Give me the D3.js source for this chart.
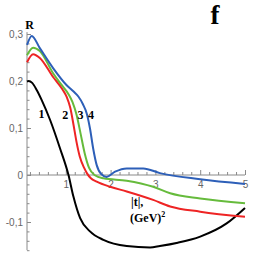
<!DOCTYPE html>
<html><head><meta charset="utf-8">
<script src="https://cdn.jsdelivr.net/npm/d3@7/dist/d3.min.js"></script>
<style>html,body{margin:0;padding:0;background:#fff;}svg{display:block;}</style>
</head><body>
<script>
const W = 272, H = 278;
const xTicks = [1, 2, 3, 4, 5];
const yTicks = [-0.1, 0, 0.1, 0.2, 0.3];
const yTickLabels = ["-0,1", "0", "0,1", "0,2", "0,3"];
const curveNames = ["1", "2", "3", "4"];
const curveColors = ["#000000", "#ee2424", "#66bb3c", "#2d5fb8"];

const x1 = [0.134,0.17,0.25,0.35,0.46,0.65,0.87,1.06,1.17,1.32,1.54,1.84,2.36,2.88,3.1,3.5,4.0,4.59,5.0];
const y1 = [0.199,0.2,0.196,0.181,0.16,0.117,0.057,0.0,-0.046,-0.092,-0.12,-0.138,-0.151,-0.154,-0.151,-0.144,-0.131,-0.103,-0.07];

const x2 = [0.134,0.27,0.42,0.72,0.92,1.02,1.1,1.17,1.24,1.31,1.41,1.47,1.56,1.69,1.99,2.36,2.95,3.33,4.0,5.0];
const y2 = [0.24,0.257,0.249,0.208,0.183,0.166,0.143,0.108,0.07,0.04,0.015,0.004,-0.007,-0.014,-0.025,-0.035,-0.053,-0.067,-0.078,-0.089];

const x3 = [0.134,0.27,0.42,0.72,0.92,1.06,1.15,1.24,1.33,1.42,1.52,1.64,1.84,2.36,2.95,3.33,4.0,5.0];
const y3 = [0.255,0.271,0.264,0.216,0.19,0.172,0.155,0.128,0.088,0.047,0.015,0.0,-0.007,-0.012,-0.025,-0.039,-0.05,-0.06];

const x4 = [0.134,0.24,0.42,0.72,1.02,1.18,1.28,1.38,1.47,1.54,1.61,1.69,1.79,1.91,2.1,2.36,2.73,3.1,4.0,5.0];
const y4 = [0.277,0.296,0.27,0.227,0.191,0.177,0.167,0.151,0.13,0.099,0.057,0.021,0.002,-0.004,0.007,0.014,0.014,0.004,-0.009,-0.019];

const labelX = [0.46, 0.99, 1.33, 1.56];
const labelY = [0.122, 0.12, 0.12, 0.12];

const xMin = 0.134;
const x = d3.scaleLinear().domain([0, 5]).range([21, 245]);
const y = d3.scaleLinear().domain([-0.16, 0.3]).range([250.2, 34]);

const svg = d3.select("body").append("svg").attr("width", W).attr("height", H);
const axisColor = "#8a8a8a";

// x axis
const xg = svg.append("g").attr("transform", `translate(0,${y(0)})`);
xg.append("line").attr("x1", x(xMin)).attr("x2", x(5)).attr("stroke", axisColor).attr("stroke-width", 1);
const xMinor = d3.range(1, 26).map(i => i * 0.2).filter(v => !xTicks.some(t => Math.abs(t - v) < 1e-6));
xg.append("g").call(d3.axisTop(x).tickValues(xMinor).tickSize(3).tickSizeOuter(0).tickFormat(""))
  .call(g => { g.select(".domain").remove(); g.selectAll("line").attr("stroke", axisColor); });
xg.append("g").call(d3.axisTop(x).tickValues(xTicks).tickSize(5).tickSizeOuter(0).tickFormat(""))
  .call(g => { g.select(".domain").remove(); g.selectAll("line").attr("stroke", axisColor); });
xg.append("g").call(d3.axisBottom(x).tickValues(xTicks).tickSize(0).tickPadding(6).tickFormat(d3.format("d")))
  .call(g => { g.select(".domain").remove(); g.selectAll("text").attr("fill", "#666").attr("font-size", 10).attr("font-family", "Liberation Sans, Arial, sans-serif"); });

// y axis
const yg = svg.append("g").attr("transform", `translate(${x(xMin)},0)`);
yg.append("line").attr("y1", y(-0.16)).attr("y2", y(0.304)).attr("stroke", axisColor).attr("stroke-width", 1);
const yMinor = d3.range(-8, 16).map(i => i * 0.02).filter(v => !yTicks.some(t => Math.abs(t - v) < 1e-6));
yg.append("g").call(d3.axisRight(y).tickValues(yMinor).tickSize(2.5).tickSizeOuter(0).tickFormat(""))
  .call(g => { g.select(".domain").remove(); g.selectAll("line").attr("stroke", axisColor); });
yg.append("g").call(d3.axisRight(y).tickValues(yTicks).tickSize(4).tickSizeOuter(0).tickFormat(""))
  .call(g => { g.select(".domain").remove(); g.selectAll("line").attr("stroke", axisColor); });
yg.append("g").call(d3.axisLeft(y).tickValues(yTicks).tickSize(0).tickPadding(4).tickFormat((d, i) => yTickLabels[i]))
  .call(g => { g.select(".domain").remove(); g.selectAll("text").attr("fill", "#666").attr("font-size", 10).attr("font-family", "Liberation Sans, Arial, sans-serif"); });

// curves
const series = [[x1, y1], [x2, y2], [x3, y3], [x4, y4]];
const line = d3.line().x(d => x(d[0])).y(d => y(d[1])).curve(d3.curveMonotoneX);
series.forEach((s, i) => {
  const pts = s[0].map((v, j) => [v, s[1][j]]);
  svg.append("path").datum(pts).attr("d", line).attr("fill", "none")
    .attr("stroke", curveColors[i]).attr("stroke-width", 2).attr("stroke-linejoin", "round");
});

// curve labels
const serif = "Liberation Serif, Times New Roman, serif";
curveNames.forEach((n, i) => {
  svg.append("text").attr("x", x(labelX[i])).attr("y", y(labelY[i])).attr("text-anchor", "middle")
    .attr("font-family", serif).attr("font-weight", "bold").attr("font-size", 12).attr("fill", "#000").text(n);
});

svg.append("text").attr("x", 29.5).attr("y", 29).attr("text-anchor", "middle")
  .attr("font-family", serif).attr("font-weight", "bold").attr("font-size", 12).text("R");
svg.append("text").attr("x", 215).attr("y", 24).attr("text-anchor", "middle")
  .attr("font-family", serif).attr("font-weight", "bold").attr("font-size", 27).text("f");
svg.append("text").attr("x", 131).attr("y", 206)
  .attr("font-family", serif).attr("font-weight", "bold").attr("font-size", 12).text("|t|,");
const gv = svg.append("text").attr("x", 130).attr("y", 222)
  .attr("font-family", serif).attr("font-weight", "bold").attr("font-size", 12);
gv.append("tspan").text("(GeV)");
gv.append("tspan").attr("dy", -5).attr("font-size", 8).text("2");
</script>
</body></html>
